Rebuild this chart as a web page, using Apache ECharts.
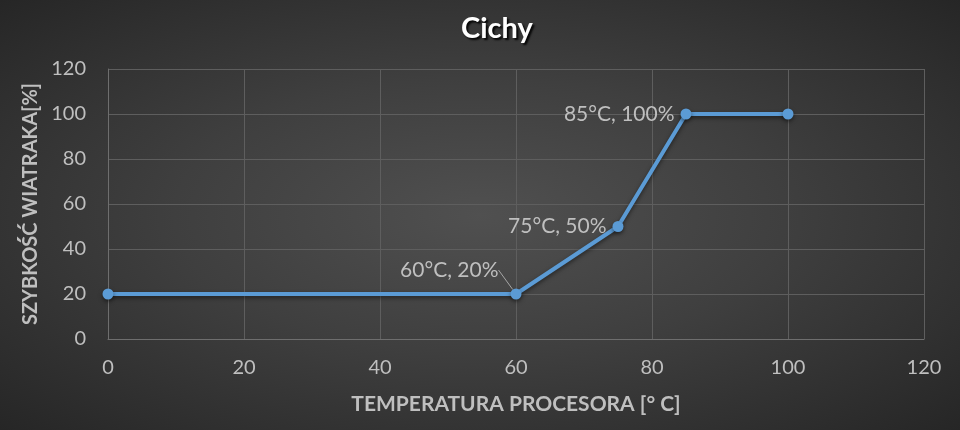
<!DOCTYPE html>
<html><head><meta charset="utf-8">
<script src="https://cdn.jsdelivr.net/npm/echarts@6/dist/echarts.min.js"></script>
<style>
html,body{margin:0;padding:0;}
#c{width:960px;height:430px;background:radial-gradient(ellipse at 50% 50%, #505050 0%, #3f3f3f 45%, #262626 100%);}
</style></head><body>
<div id="c"></div>
<script>
const title = 'Cichy';
const xName = 'TEMPERATURA PROCESORA [° C]';
const yName = 'SZYBKOŚĆ WIATRAKA[%]';
const temps = [0, 60, 75, 85, 100];
const speeds = [20, 20, 50, 100, 100];
const pointLabels = ['', '60°C, 20%', '75°C, 50%', '85°C, 100%', ''];

const chart = echarts.init(document.getElementById('c'), null, {renderer:'canvas'});
const txt = '#bfbfbf';
const font = 'Lato, "Open Sans", sans-serif';
chart.setOption({
  backgroundColor: 'transparent',
  animation: false,
  title: {
    text: title, left: 456, top: 9,
    textStyle: {color:'#ffffff', fontSize:29, fontWeight:'bold', fontFamily:font,
      textShadowColor:'rgba(0,0,0,0.9)', textShadowBlur:2, textShadowOffsetX:2, textShadowOffsetY:2}
  },
  grid: {left:108, right:36, top:69, bottom:91},
  xAxis: {
    type:'value', min:0, max:120, interval:20,
    name: xName, nameLocation:'middle', nameGap:55,
    nameTextStyle:{color:txt, fontSize:21, fontWeight:'bold', fontFamily:font},
    axisLine:{show:true, lineStyle:{color:'#6e6e6e'}},
    axisTick:{show:false},
    axisLabel:{color:txt, fontSize:20, fontFamily:font, margin:19},
    splitLine:{show:true, lineStyle:{color:'#5e5e5e'}}
  },
  yAxis: {
    type:'value', min:0, max:120, interval:20,
    name: yName, nameLocation:'middle', nameGap:66, nameRotate:90,
    nameTextStyle:{color:txt, fontSize:20, fontWeight:'bold', fontFamily:font},
    axisLine:{show:true, lineStyle:{color:'#6e6e6e'}},
    axisTick:{show:false},
    axisLabel:{color:txt, fontSize:20, fontFamily:font, margin:22},
    splitLine:{show:true, lineStyle:{color:'#5e5e5e'}}
  },
  series: [{
    type:'line',
    data: temps.map((t,i)=>({
      value:[t, speeds[i]],
      labelLine:{show: i === 1}
    })),
    symbol:'circle', symbolSize:11,
    itemStyle:{color:'#5b9bd5', shadowColor:'rgba(0,0,0,0.5)', shadowBlur:4, shadowOffsetY:2},
    lineStyle:{color:'#5b9bd5', width:4, shadowColor:'rgba(0,0,0,0.5)', shadowBlur:4, shadowOffsetY:2},
    label:{
      show:true, position:'left', distance:6,
      color:txt, fontSize:21, fontFamily:font,
      formatter: p => pointLabels[p.dataIndex]
    },
    labelLine:{show:false, lineStyle:{color:'#a6a6a6', width:1}},
    labelLayout: function(p){
      if (p.dataIndex === 1) return {dx:-6, dy:-24};
      return {};
    }
  }]
});
</script>
</body></html>
